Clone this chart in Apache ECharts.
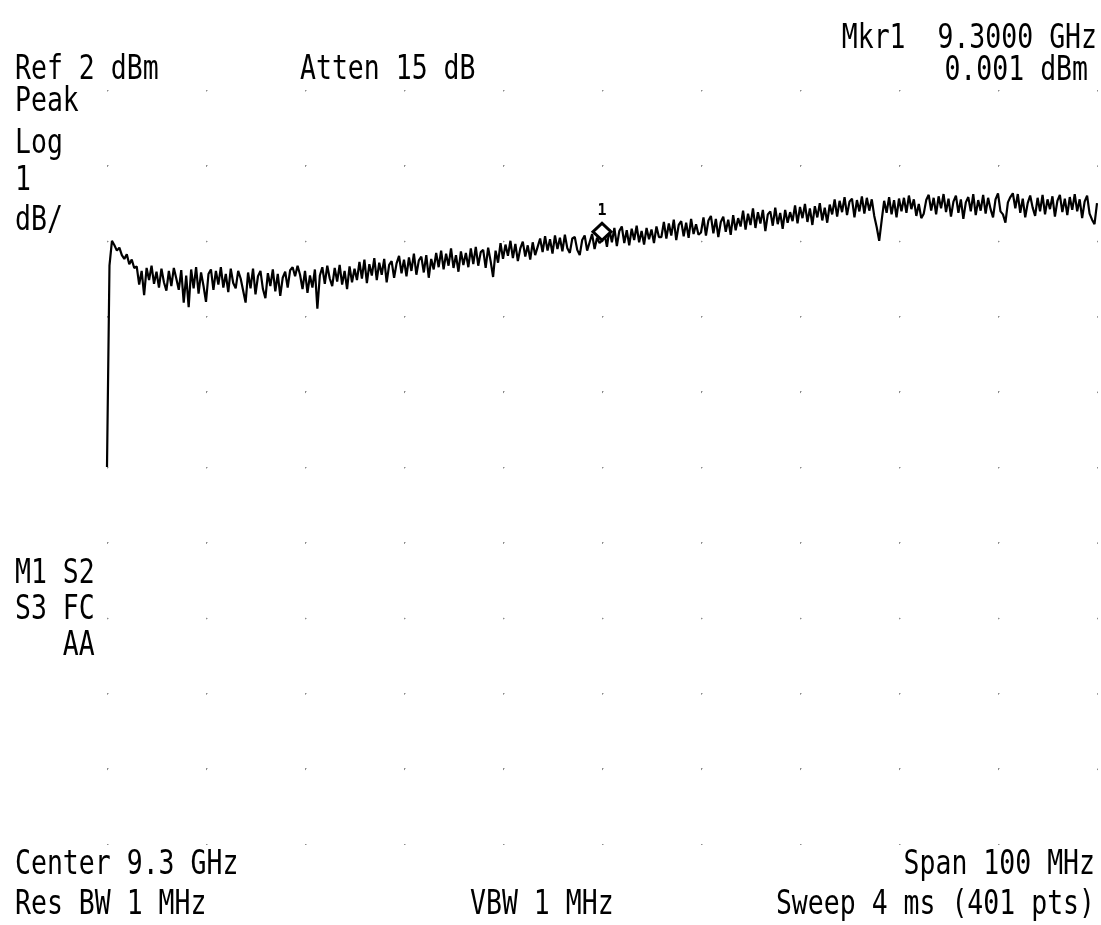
<!DOCTYPE html>
<html>
<head>
<meta charset="utf-8">
<title>Spectrum trace 9.3 GHz</title>
<script src="https://cdn.jsdelivr.net/npm/echarts@6/dist/echarts.min.js"></script>
<style>
  html, body { margin: 0; padding: 0; background: #ffffff; }
  #chart { width: 1101px; height: 925px; }
</style>
</head>
<body>
<div id="chart"></div>
<script>
// Analyzer settings
const centerMHz = 9300;
const spanMHz = 100;
const refLevelDbm = 2;
const dbPerDiv = 1;
const divisions = 10;

// Peak-detected trace, 401 points across the span (dBm)
const traceDbm = [
  -3.00, -0.33, 0.00, -0.06, -0.13, -0.09, -0.19, -0.24, -0.18, -0.31, -0.25, -0.36,
  -0.34, -0.58, -0.40, -0.72, -0.36, -0.52, -0.33, -0.57, -0.41, -0.62,
  -0.37, -0.55, -0.66, -0.40, -0.60, -0.36, -0.50, -0.65, -0.39, -0.82,
  -0.46, -0.88, -0.38, -0.63, -0.35, -0.70, -0.42, -0.60, -0.81, -0.44,
  -0.38, -0.65, -0.40, -0.58, -0.35, -0.62, -0.44, -0.68, -0.37, -0.56, -0.63, -0.40,
  -0.50, -0.66, -0.82, -0.42, -0.63, -0.37, -0.71, -0.47, -0.40, -0.64,
  -0.76, -0.43, -0.60, -0.38, -0.67, -0.44, -0.73, -0.49, -0.41, -0.62,
  -0.39, -0.35, -0.47, -0.33,
  -0.45, -0.64, -0.40, -0.69, -0.46, -0.62, -0.38, -0.90,
  -0.46, -0.35, -0.57, -0.33, -0.50, -0.60, -0.36, -0.54, -0.32, -0.58, -0.40, -0.64, -0.34, -0.55, -0.37, -0.52,
  -0.28, -0.50, -0.25, -0.56, -0.31, -0.46, -0.23, -0.52, -0.29, -0.45, -0.24, -0.55, -0.32, -0.27, -0.49, -0.30,
  -0.20, -0.43, -0.25, -0.47, -0.22, -0.40, -0.17, -0.45, -0.26, -0.21, -0.42, -0.19, -0.49, -0.24, -0.38, -0.16,
  -0.35, -0.13, -0.38, -0.17, -0.33, -0.10, -0.36, -0.19, -0.41, -0.14, -0.32, -0.16, -0.35,
  -0.10, -0.31, -0.08, -0.33, -0.15, -0.12, -0.36, -0.09, -0.27, -0.48, -0.13, -0.29,
  -0.03, -0.24, -0.05, -0.20, 0.00, -0.23, -0.04, -0.27, -0.10, -0.01, -0.21, -0.06, -0.25, -0.02, -0.19, -0.08,
  0.03, -0.15, 0.06, -0.13, 0.02, -0.17, 0.07, -0.11, 0.04, -0.14,
  0.08, -0.10, -0.16, 0.03, 0.05, -0.12, -0.19, 0.01, 0.07, -0.13,
  -0.02, 0.09, -0.11, 0.04, -0.03,
  0.001,
  0.10, -0.08, 0.15, -0.02, 0.17, -0.07, 0.13, 0.19, -0.03, 0.14,
  -0.06, 0.16, 0.01, 0.20, -0.02, 0.13, -0.05, 0.17, 0.02, 0.15,
  -0.03, 0.19, 0.05,
  0.05, 0.25, 0.03, 0.23, 0.07, 0.28, 0.01, 0.21, 0.26, 0.06, 0.24, 0.04, 0.29, 0.09, 0.22, 0.08,
  0.11, 0.31, 0.07, 0.27, 0.33, 0.10, 0.29, 0.05, 0.25, 0.32, 0.12, 0.28, 0.08, 0.34, 0.14, 0.30,
  0.19, 0.40, 0.15, 0.36, 0.21, 0.43, 0.17, 0.38, 0.23, 0.41,
  0.13, 0.35, 0.39, 0.20, 0.44, 0.22, 0.37, 0.16, 0.41, 0.24, 0.38,
  0.26, 0.47, 0.23, 0.45, 0.30, 0.49, 0.25, 0.43, 0.21, 0.46, 0.31, 0.50, 0.27, 0.44, 0.24, 0.48,
  0.35, 0.55, 0.32, 0.53, 0.38, 0.58, 0.34, 0.52, 0.56, 0.31,
  0.54, 0.39, 0.59, 0.36, 0.57, 0.40, 0.55,
  0.33, 0.18, 0.00, 0.27, 0.53, 0.37, 0.58, 0.35, 0.54, 0.31, 0.56, 0.39,
  0.57, 0.37, 0.60, 0.42, 0.55, 0.33, 0.49, 0.30, 0.36, 0.54,
  0.61, 0.40, 0.57, 0.35, 0.59, 0.43, 0.62, 0.38, 0.56, 0.32,
  0.52, 0.60, 0.37, 0.55, 0.29, 0.51, 0.58, 0.39, 0.62, 0.34,
  0.54, 0.40, 0.61, 0.36, 0.57, 0.42, 0.31, 0.55, 0.63, 0.39,
  0.35, 0.24, 0.51, 0.58, 0.63, 0.43, 0.62, 0.37, 0.56, 0.31,
  0.50, 0.60, 0.44, 0.33, 0.57, 0.39, 0.61, 0.35, 0.55, 0.42,
  0.59, 0.32, 0.53, 0.61, 0.38, 0.56, 0.34, 0.58, 0.41, 0.62,
  0.39, 0.55, 0.30, 0.52, 0.60, 0.36, 0.28, 0.22, 0.50
];

// Marker 1
const markerIndex = 200;
const markerDbm = 0.001;

// Screen annotations
const leftStatus = ['Peak', 'Log', '1', 'dB/'];
const leftFlags = ['M1 S2', 'S3 FC', '   AA'];

const startMHz = centerMHz - spanMHz / 2;
const stopMHz = centerMHz + spanMHz / 2;
const stepMHz = spanMHz / (traceDbm.length - 1);
const traceData = traceDbm.map((v, i) => [startMHz + i * stepMHz, v]);
const markerMHz = startMHz + markerIndex * stepMHz;

const FONT = '26.5px "DejaVu Sans Mono", "Liberation Mono", monospace';
function screenText(str, x, y, align) {
  return {
    type: 'text', x: x, y: y, scaleY: 1.24, silent: true,
    style: { text: str, fill: '#000', font: FONT, textAlign: align || 'left', textVerticalAlign: 'middle' }
  };
}

const graphics = [
  screenText('Ref ' + refLevelDbm + ' dBm', 15, 70),
  screenText('Atten 15 dB', 300, 70),
  screenText('Mkr1  ' + (markerMHz / 1000).toFixed(4) + ' GHz', 1097, 39, 'right'),
  screenText(markerDbm.toFixed(3) + ' dBm', 1088, 71, 'right'),
  screenText('Center ' + (centerMHz / 1000) + ' GHz', 15, 865),
  screenText('Span ' + spanMHz + ' MHz', 1095, 865, 'right'),
  screenText('Res BW 1 MHz', 15, 905),
  screenText('VBW 1 MHz', 470, 905),
  screenText('Sweep 4 ms (' + traceDbm.length + ' pts)', 1095, 905, 'right')
];
const statusY = [102, 144, 181, 221];
leftStatus.forEach((s, k) => graphics.push(screenText(s, 15, statusY[k])));
const flagY = [574, 610, 646];
leftFlags.forEach((s, k) => graphics.push(screenText(s, 15, flagY[k])));

const chart = echarts.init(document.getElementById('chart'), null, { renderer: 'canvas' });
chart.setOption({
  animation: false,
  backgroundColor: '#ffffff',
  grid: { left: 107, right: 4, top: 90, bottom: 81, containLabel: false },
  xAxis: {
    type: 'value', min: startMHz, max: stopMHz, interval: spanMHz / divisions,
    axisLine: { show: false }, axisTick: { show: false }, axisLabel: { show: false },
    splitLine: { show: true, lineStyle: { color: '#8c8c8c', width: 1, type: [1.5, 73.9] } }
  },
  yAxis: {
    type: 'value', min: refLevelDbm - divisions * dbPerDiv, max: refLevelDbm, interval: dbPerDiv,
    axisLine: { show: false }, axisTick: { show: false }, axisLabel: { show: false },
    splitLine: { show: true, lineStyle: { color: '#8c8c8c', width: 1, type: [1.5, 97.5] } }
  },
  series: [{
    type: 'line',
    data: traceData,
    showSymbol: false,
    symbol: 'none',
    lineStyle: { color: '#000', width: 2.2 },
    markPoint: {
      silent: true,
      data: [{
        coord: [markerMHz, markerDbm],
        symbol: 'diamond',
        symbolSize: [18, 17],
        symbolOffset: [0, -9],
        itemStyle: { color: '#ffffff', borderColor: '#000', borderWidth: 3 },
        label: { show: true, position: 'top', distance: 3, formatter: '1', color: '#000',
                 fontSize: 15, fontWeight: 'bold', fontFamily: 'DejaVu Sans Mono' }
      }]
    }
  }],
  graphic: graphics
});
</script>
</body>
</html>
